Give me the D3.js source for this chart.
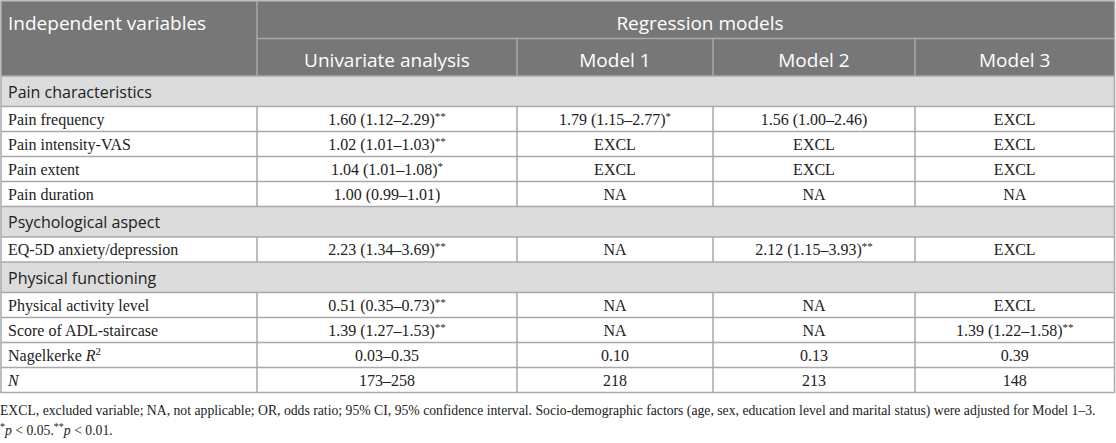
<!DOCTYPE html>
<html>
<head>
<meta charset="utf-8">
<script src="https://cdn.jsdelivr.net/npm/d3@7"></script>
<style>
  body { margin: 0; background: #fff; }
  svg { display: block; }
</style>
</head>
<body>
<div id="table"></div>
<script>
// table content
var columns = ["Independent variables", "Univariate analysis", "Model 1", "Model 2", "Model 3"];
var groupHeader = "Regression models";
var sectionNames = ["Pain characteristics", "Psychological aspect", "Physical functioning"];
var sectionOf = [0, 0, 0, 0, 1, 2, 2, 2, 2];
var variables = ["Pain frequency", "Pain intensity-VAS", "Pain extent", "Pain duration",
  "EQ-5D anxiety/depression", "Physical activity level", "Score of ADL-staircase",
  "Nagelkerke R|2", "N"];
var univariate = ["1.60 (1.12–2.29)**", "1.02 (1.01–1.03)**", "1.04 (1.01–1.08)*", "1.00 (0.99–1.01)",
  "2.23 (1.34–3.69)**", "0.51 (0.35–0.73)**", "1.39 (1.27–1.53)**", "0.03–0.35", "173–258"];
var model1 = ["1.79 (1.15–2.77)*", "EXCL", "EXCL", "NA", "NA", "NA", "NA", "0.10", "218"];
var model2 = ["1.56 (1.00–2.46)", "EXCL", "EXCL", "NA", "2.12 (1.15–3.93)**", "NA", "NA", "0.13", "213"];
var model3 = ["EXCL", "EXCL", "EXCL", "NA", "EXCL", "EXCL", "1.39 (1.22–1.58)**", "0.39", "148"];
var footnote1 = "EXCL, excluded variable; NA, not applicable; OR, odds ratio; 95% CI, 95% confidence interval. Socio-demographic factors (age, sex, education level and marital status) were adjusted for Model 1–3.";

var width = 1116, height = 443;
var leftX = 1, rightX = 1114.5, topY = 1;
var colWidths = [256, 260, 196, 202, 199.5];
var headH = 37.5, sectionH = 30.5, rowH = 25;
var gridColor = "#a9a9a9", headColor = "#777777", sectionColor = "#dcdcdc";
var sans = "'Open Sans', 'Noto Sans', sans-serif";
var serif = "'Liberation Serif', 'DejaVu Serif', serif";

var edges = [leftX].concat(Array.from(d3.cumsum(colWidths), function (d) { return leftX + d; }));
var x = d3.scaleOrdinal().domain(d3.range(columns.length)).range(edges.slice(0, -1));
var colW = function (i) { return edges[i + 1] - edges[i]; };

// flatten to rows: a section row before each new section
var rows = [];
variables.forEach(function (v, i) {
  if (i == 0 || sectionOf[i] != sectionOf[i - 1])
    rows.push({ type: "section", label: sectionNames[sectionOf[i]] });
  rows.push({ type: "data", cells: [v, univariate[i], model1[i], model2[i], model3[i]] });
});
var y0 = topY + headH * 2;
rows.forEach(function (r) {
  r.h = r.type == "section" ? sectionH : rowH;
  r.y = y0;
  y0 += r.h;
});
var tableBottom = y0;

var svg = d3.select("#table").append("svg")
  .attr("width", width).attr("height", height);

// header
svg.append("rect").attr("x", leftX).attr("y", topY)
  .attr("width", rightX - leftX).attr("height", headH * 2).attr("fill", headColor);

// body backgrounds
svg.selectAll(".rowbg").data(rows).enter().append("rect")
  .attr("x", leftX).attr("y", function (d) { return d.y; })
  .attr("width", rightX - leftX).attr("height", function (d) { return d.h; })
  .attr("fill", function (d) { return d.type == "section" ? sectionColor : "#fff"; });

var lines = svg.append("g").attr("stroke", gridColor).attr("stroke-width", 1.5);
// header lines
lines.append("line").attr("x1", edges[1]).attr("x2", edges[1]).attr("y1", topY).attr("y2", topY + headH * 2);
lines.append("line").attr("x1", edges[1]).attr("x2", rightX).attr("y1", topY + headH).attr("y2", topY + headH);
edges.slice(2, -1).forEach(function (e) {
  lines.append("line").attr("x1", e).attr("x2", e).attr("y1", topY + headH).attr("y2", topY + headH * 2);
});
// row lines
rows.forEach(function (r) {
  lines.append("line").attr("x1", leftX).attr("x2", rightX).attr("y1", r.y).attr("y2", r.y);
  if (r.type == "data") {
    edges.slice(1, -1).forEach(function (e) {
      lines.append("line").attr("x1", e).attr("x2", e).attr("y1", r.y).attr("y2", r.y + r.h);
    });
  }
});
lines.append("rect").attr("x", leftX).attr("y", topY)
  .attr("width", rightX - leftX).attr("height", tableBottom - topY).attr("fill", "none");

// header text
var htext = svg.append("g").attr("fill", "#fff").style("font-family", sans).style("font-size", "19px");
htext.append("text").attr("x", leftX + 7).attr("y", topY + headH - 9).text(columns[0]);
htext.append("text").attr("x", 700).attr("y", topY + headH - 9)
  .attr("text-anchor", "middle").text(groupHeader);
columns.slice(1).forEach(function (c, i) {
  htext.append("text").attr("x", x(i + 1) + colW(i + 1) / 2).attr("y", topY + headH * 2 - 9)
    .attr("text-anchor", "middle").text(c);
});

// cell text with superscript asterisks, italic R/N
function fillCell(sel, s, isLabel) {
  var m = s.match(/^(.*?)(\*+)$/);
  if (isLabel && s.indexOf("|") > 0) {
    var p = s.split("|");
    sel.append("tspan").text(p[0].slice(0, -1));
    sel.append("tspan").style("font-style", "italic").text(p[0].slice(-1));
    sel.append("tspan").attr("dy", -6).style("font-size", "11px").text(p[1]);
  } else if (isLabel && s == "N") {
    sel.append("tspan").style("font-style", "italic").text(s);
  } else if (m) {
    sel.append("tspan").text(m[1]);
    sel.append("tspan").attr("dy", -5).style("font-size", "11px").text(m[2]);
  } else {
    sel.text(s);
  }
}

var body = svg.append("g").style("font-family", serif).style("font-size", "16px").attr("fill", "#222");
rows.forEach(function (r) {
  if (r.type == "section") {
    svg.append("text").attr("x", leftX + 7).attr("y", r.y + r.h - 9)
      .style("font-family", sans).style("font-size", "16px").attr("fill", "#222").text(r.label);
  } else {
    r.cells.forEach(function (c, i) {
      var t = body.append("text")
        .attr("x", i == 0 ? leftX + 7 : x(i) + colW(i) / 2)
        .attr("y", r.y + r.h - 7)
        .attr("text-anchor", i == 0 ? "start" : "middle");
      fillCell(t, c, i == 0);
    });
  }
});

// footnotes
var foot = svg.append("g").style("font-family", serif).style("font-size", "15px").attr("fill", "#222");
var f1 = foot.append("text").attr("x", 0).attr("y", tableBottom + 22).text(footnote1);
var target = 1096, len = f1.node().getComputedTextLength();
foot.style("font-size", (15 * target / len).toFixed(2) + "px");
var f2 = foot.append("text").attr("x", 0).attr("y", tableBottom + 42);
f2.append("tspan").attr("dy", -5).style("font-size", "10px").text("*");
f2.append("tspan").attr("dy", 5).style("font-style", "italic").text("p");
f2.append("tspan").text(" < 0.05.");
f2.append("tspan").attr("dy", -5).style("font-size", "10px").text("**");
f2.append("tspan").attr("dy", 5).style("font-style", "italic").text("p");
f2.append("tspan").text(" < 0.01.");
</script>
</body>
</html>
